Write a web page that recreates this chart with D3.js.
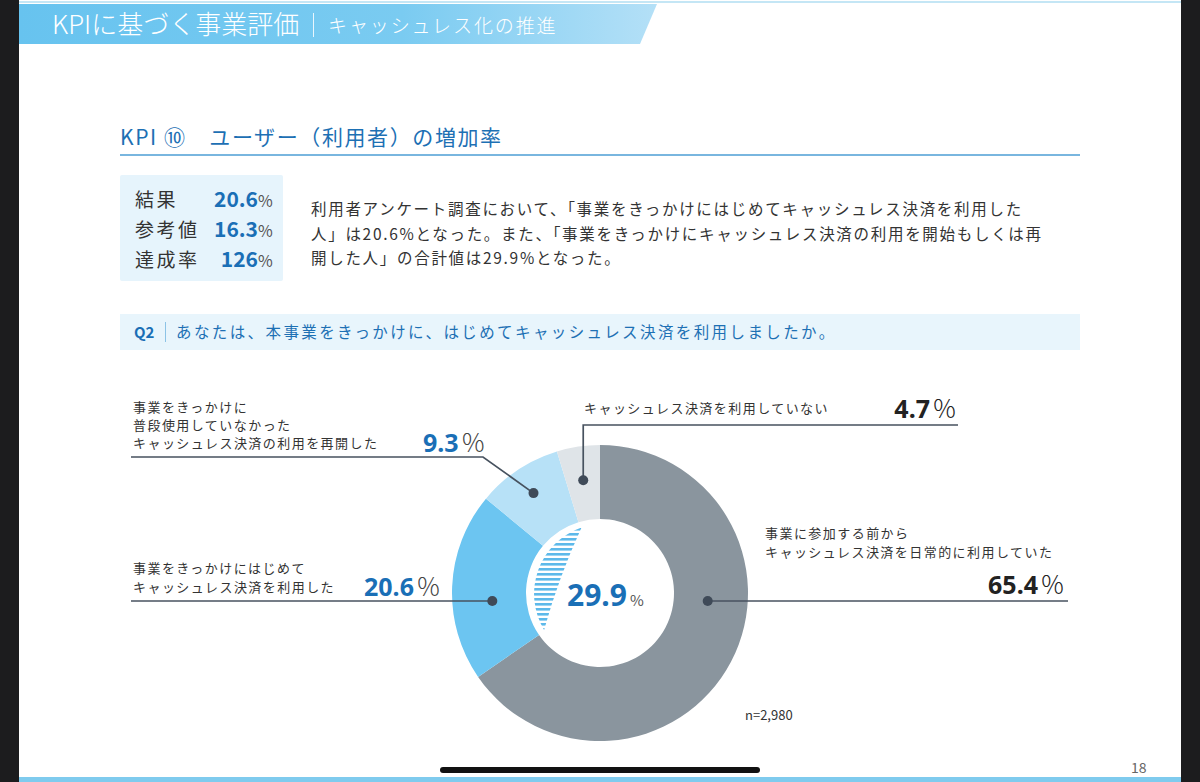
<!DOCTYPE html>
<html><head><meta charset="utf-8">
<script src="https://cdn.jsdelivr.net/npm/d3@7"></script>
<style>
html,body{margin:0;padding:0;background:#fff;}
svg{display:block;}
text{font-family:"Noto Sans CJK JP","Noto Sans",sans-serif;}
</style></head>
<body>
<svg id="chart" width="1200" height="782"></svg>
<script>
// ---- data ----
const categories = [
  "事業に参加する前からキャッシュレス決済を日常的に利用していた",
  "事業をきっかけにはじめてキャッシュレス決済を利用した",
  "事業をきっかけに普段使用していなかったキャッシュレス決済の利用を再開した",
  "キャッシュレス決済を利用していない"
];
const labelLines = [
  ["事業に参加する前から", "キャッシュレス決済を日常的に利用していた"],
  ["事業をきっかけにはじめて", "キャッシュレス決済を利用した"],
  ["事業をきっかけに", "普段使用していなかった", "キャッシュレス決済の利用を再開した"],
  ["キャッシュレス決済を利用していない"]
];
const values = [65.4, 20.6, 9.3, 4.7];
const sliceColors = ["#8a959e", "#6cc5f1", "#b7e1f7", "#dfe4e8"];
const valueColors = ["#222222", "#1a6fb6", "#1a6fb6", "#222222"];
const highlighted = [1, 2];            // slices summed in the centre
const centreValue = 29.9;
const sampleSize = "n=2,980";
const kpiRows = [["結果", "20.6"], ["参考値", "16.3"], ["達成率", "126"]];
const paragraph = [
  "利用者アンケート調査において、「事業をきっかけにはじめてキャッシュレス決済を利用した",
  "人」は20.6%となった。また、「事業をきっかけにキャッシュレス決済の利用を開始もしくは再",
  "開した人」の合計値は29.9%となった。"
];
const headerMain = "KPIに基づく事業評価";
const headerSub = "キャッシュレス化の推進";
const sectionTitle = "KPI ⑩　ユーザー（利用者）の増加率";
const question = "あなたは、本事業をきっかけに、はじめてキャッシュレス決済を利用しましたか。";
const pageNo = "18";

// ---- drawing ----
const svg = d3.select("#chart");
const defs = svg.append("defs");
const grad = defs.append("linearGradient").attr("id", "hdr").attr("x1", "0").attr("x2", "1");
grad.append("stop").attr("offset", "0").attr("stop-color", "#67c3ef");
grad.append("stop").attr("offset", "0.6").attr("stop-color", "#7acbf1");
grad.append("stop").attr("offset", "1").attr("stop-color", "#b4e0f7");

// device frame strips
svg.append("rect").attr("x", 0).attr("y", 0).attr("width", 19).attr("height", 782).attr("fill", "#1c1c1e");
svg.append("rect").attr("x", 1181).attr("y", 0).attr("width", 19).attr("height", 782).attr("fill", "#1c1c1e");
svg.append("rect").attr("x", 19).attr("y", 1).attr("width", 1162).attr("height", 2).attr("fill", "#c4e6f5");
svg.append("rect").attr("x", 19).attr("y", 777).attr("width", 1162).attr("height", 5).attr("fill", "#7fcbee");

// header band
svg.append("path").attr("d", "M19,4 L657,4 L640,44 L19,44 Z").attr("fill", "url(#hdr)");
svg.append("text").attr("x", 52).attr("y", 34).attr("fill", "#fff").attr("font-size", 26).attr("font-weight", 300)
  .text(headerMain);
svg.append("rect").attr("x", 313).attr("y", 13).attr("width", 1).attr("height", 24).attr("fill", "#e9f6fd");
svg.append("text").attr("x", 328).attr("y", 33).attr("fill", "#fff").attr("font-size", 19).attr("font-weight", 300)
  .attr("letter-spacing", 1.9).text(headerSub);

// section title
svg.append("text").attr("x", 120).attr("y", 145).attr("fill", "#1d70b4").attr("font-size", 21)
  .attr("letter-spacing", 1.6).text(sectionTitle);
svg.append("rect").attr("x", 120).attr("y", 154).attr("width", 960).attr("height", 2).attr("fill", "#79b6df");

// KPI box
svg.append("rect").attr("x", 120).attr("y", 175).attr("width", 163).attr("height", 106).attr("rx", 2).attr("fill", "#e6f4fc");
const rowY = [207, 237, 267];
kpiRows.forEach((r, i) => {
  svg.append("text").attr("x", 135).attr("y", rowY[i]).attr("fill", "#333").attr("font-size", 19).attr("letter-spacing", 2.5).text(r[0]);
  svg.append("text").attr("x", 258).attr("y", rowY[i]).attr("text-anchor", "end").attr("fill", "#1a6fb6")
    .attr("font-size", 21).attr("font-weight", 700).attr("font-family", "'Noto Sans',sans-serif").text(r[1]);
  svg.append("text").attr("x", 258).attr("y", rowY[i]).attr("fill", "#555").attr("font-size", 16)
    .attr("font-family", "'Noto Sans',sans-serif").text("%");
});

// paragraph
paragraph.forEach((line, i) => {
  svg.append("text").attr("x", 311).attr("y", 215 + i * 24.5).attr("fill", "#333").attr("font-size", 15.5)
    .attr("letter-spacing", 1.7).text(line);
});

// question bar
svg.append("rect").attr("x", 120).attr("y", 314).attr("width", 960).attr("height", 36).attr("fill", "#e8f5fc");
svg.append("text").attr("x", 134).attr("y", 338).attr("fill", "#1a6fb6").attr("font-size", 15).attr("font-weight", 700)
  .attr("font-family", "'Noto Sans',sans-serif").text("Q2");
svg.append("rect").attr("x", 165).attr("y", 322).attr("width", 1).attr("height", 20).attr("fill", "#8cc3e6");
svg.append("text").attr("x", 176).attr("y", 338).attr("fill", "#1d70b4").attr("font-size", 15.5)
  .attr("letter-spacing", 2.4).text(question);

// donut
const cx = 600, cy = 593, rOuter = 148, rInner = 74;
const pie = d3.pie().sort(null).value(d => d);
const arcs = pie(values);
const arc = d3.arc().innerRadius(rInner).outerRadius(rOuter);
const g = svg.append("g").attr("transform", `translate(${cx},${cy})`);
g.selectAll("path.slice").data(arcs).enter().append("path").attr("class", "slice")
  .attr("d", arc).attr("fill", (d, i) => sliceColors[i]);

// hatched crescent spanning highlighted slices
const a0 = arcs[highlighted[0]].startAngle, a1 = arcs[highlighted[highlighted.length - 1]].endAngle;
const hr = 70;
const pt = (a, r) => [r * Math.sin(a), -r * Math.cos(a)];
const p0 = pt(a0 + 0.02, hr - 3), p1 = pt(a1 + 0.02, hr - 2);
const cres = `M${p0[0]},${p0[1]} A${hr},${hr} 0 0 1 ${p1[0]},${p1[1]} A700,700 0 0 0 ${p0[0]},${p0[1]} Z`;
defs.append("clipPath").attr("id", "cres").append("path").attr("d", cres);
const hatch = g.append("g").attr("clip-path", "url(#cres)");
hatch.selectAll("rect").data(d3.range(-hr, hr, 5)).enter().append("rect")
  .attr("x", -hr).attr("y", d => d).attr("width", hr).attr("height", 2.6).attr("fill", "#5db9ea");

// centre value
const ct = svg.append("text").attr("x", 567).attr("y", 606).attr("text-anchor", "start");
ct.append("tspan").attr("fill", "#1a6fb6").attr("font-size", 30).attr("font-weight", 700)
  .attr("font-family", "'Noto Sans',sans-serif").text(centreValue.toFixed(1));
ct.append("tspan").attr("fill", "#555").attr("font-size", 15).attr("dx", 3).text("%");

// callouts
const lineColor = "#47525f";
const midR = 108;
function dotOnRow(y, side) {
  const dy = y - cy;
  return [cx + side * Math.sqrt(midR * midR - dy * dy), y];
}
function centroidAt(d, r) {
  const a = (d.startAngle + d.endAngle) / 2;
  return [cx + r * Math.sin(a), cy - r * Math.cos(a)];
}
const co = svg.append("g");
function pathLine(pts) {
  co.append("path").attr("d", d3.line()(pts)).attr("fill", "none").attr("stroke", lineColor).attr("stroke-width", 1.7);
}
function dot(p) {
  co.append("circle").attr("cx", p[0]).attr("cy", p[1]).attr("r", 5).attr("fill", "#3f4a58");
}
function labels(lines, x, yLast, step) {
  lines.forEach((t, i) => {
    co.append("text").attr("x", x).attr("y", yLast - (lines.length - 1 - i) * step).attr("fill", "#333")
      .attr("font-size", 13).attr("letter-spacing", 1.45).text(t);
  });
}
function bigValue(v, x, y, color, anchor) {
  const t = co.append("text").attr("x", x).attr("y", y).attr("text-anchor", anchor);
  t.append("tspan").attr("fill", color).attr("font-size", 25).attr("font-weight", 700)
    .attr("font-family", "'Noto Sans',sans-serif").text(v.toFixed(1));
  t.append("tspan").attr("fill", color === "#222222" ? "#222" : "#444").attr("font-size", 25).attr("font-weight", 300)
    .attr("dx", 2).text("％");
}

// slice 0 (right)
{
  const y = 601, p = dotOnRow(y, 1);
  pathLine([p, [1068, y]]); dot(p);
  labels(labelLines[0], 765, 557, 19);
  bigValue(values[0], 1065, 594, valueColors[0], "end");
}
// slice 1 (left)
{
  const y = 601, p = dotOnRow(y, -1);
  pathLine([[131, y], p]); dot(p);
  labels(labelLines[1], 133, 592, 19.5);
  bigValue(values[1], 364, 596, valueColors[1], "start");
}
// slice 2 (upper left)
{
  const p = centroidAt(arcs[2], 120);
  pathLine([[131, 457], [483, 457], p]); dot(p);
  labels(labelLines[2], 133, 448, 18);
  bigValue(values[2], 423, 452, valueColors[2], "start");
}
// slice 3 (top)
{
  const p = centroidAt(arcs[3], 114);
  pathLine([p, [p[0], 425], [958, 425]]); dot(p);
  labels(labelLines[3], 584, 413, 18);
  bigValue(values[3], 957, 418, valueColors[3], "end");
}

svg.append("text").attr("x", 745).attr("y", 720).attr("fill", "#333").attr("font-size", 13)
  .attr("font-family", "'Noto Sans',sans-serif").text(sampleSize);
svg.append("text").attr("x", 1131).attr("y", 773).attr("fill", "#666").attr("font-size", 14)
  .attr("font-family", "'Noto Sans',sans-serif").text(pageNo);
// home indicator
svg.append("rect").attr("x", 440).attr("y", 767).attr("width", 320).attr("height", 6).attr("rx", 3).attr("fill", "#111");
</script>
</body></html>
